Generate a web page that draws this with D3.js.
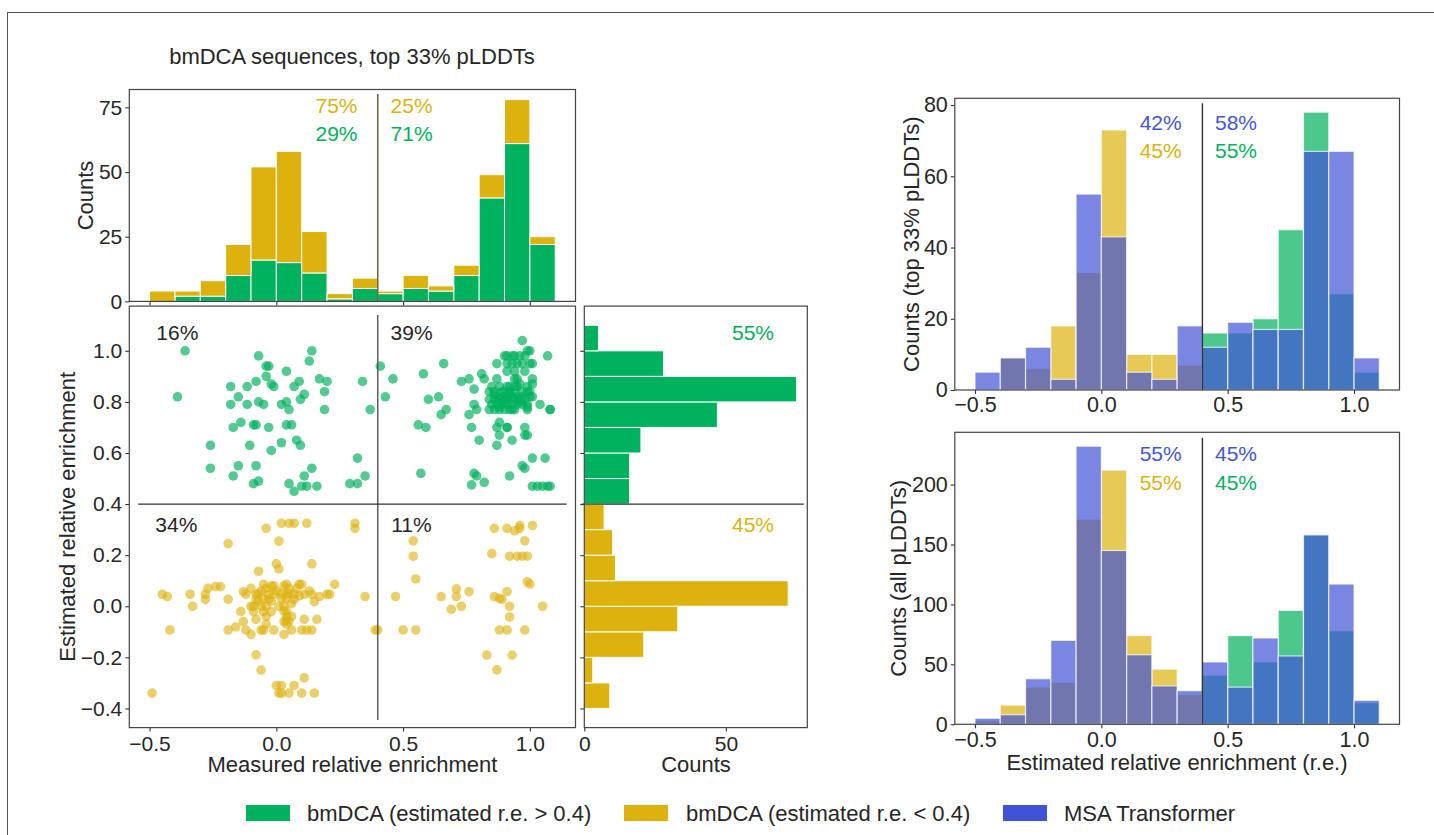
<!DOCTYPE html>
<meta charset="utf-8">
<style>
  body { margin: 0; background: #fff; }
  svg { display: block; font-family: "Liberation Sans", Arial, sans-serif; }
</style>
<body></body>
<script src="https://cdnjs.cloudflare.com/ajax/libs/d3/7.8.5/d3.min.js"></script>
<script>
// ---- data ----
const binEdges = [-0.5, -0.4, -0.3, -0.2, -0.1, 0.0, 0.1, 0.2, 0.3, 0.4, 0.5, 0.6, 0.7, 0.8, 0.9, 1.0, 1.1];

// top-left stacked histogram (measured r.e. of bmDCA top 33%)
const topGreen  = [0, 2, 2, 10, 16, 15, 11, 1, 5, 3, 5, 4, 10, 40, 61, 22];
const topYellow = [4, 2, 6, 12, 36, 43, 16, 2, 4, 1, 5, 2, 4, 9, 17, 3];

// right marginal histogram (estimated r.e.)
const margYellowEdges = [-0.4, -0.3, -0.2, -0.1, 0.0, 0.1, 0.2, 0.3, 0.4];
const margYellow = [9, 3, 21, 33, 72, 11, 10, 7];
const margGreenEdges = [0.4, 0.5, 0.6, 0.7, 0.8, 0.9, 1.0, 1.1];
const margGreen = [16, 16, 20, 47, 75, 28, 5];

// right panels
const bmdcaTop = [0, 9, 6, 18, 33, 73, 10, 10, 7, 16, 16, 20, 45, 78, 27, 5];
const msaTop   = [5, 9, 12, 3, 55, 43, 5, 3, 18, 12, 19, 17, 17, 67, 67, 9];
const bmdcaAll = [3, 16, 31, 35, 171, 212, 74, 46, 25, 41, 74, 52, 95, 158, 78, 18];
const msaAll   = [5, 8, 38, 70, 232, 145, 58, 32, 28, 52, 31, 72, 57, 158, 117, 20];

// scatter: [measured, estimated]
const greenPts = [
  [-0.36,1.0],[-0.39,0.82],[-0.26,0.63],[-0.26,0.54],[-0.18,0.86],[-0.18,0.79],[-0.15,0.82],[-0.17,0.70],
  [-0.14,0.72],[-0.15,0.55],[-0.17,0.51],[-0.115,0.86],[-0.115,0.79],[-0.08,0.88],[-0.07,0.98],[-0.04,0.90],
  [-0.04,0.94],[-0.03,0.94],[-0.07,0.80],[-0.05,0.79],[-0.105,0.63],[-0.09,0.71],[-0.08,0.71],[-0.03,0.70],
  [-0.02,0.87],[-0.01,0.86],[-0.08,0.55],[-0.09,0.48],[-0.07,0.49],[-0.02,0.61],[0.02,0.64],[0.02,0.79],
  [0.04,0.80],[0.04,0.92],[0.05,0.77],[0.04,0.71],[0.06,0.71],[0.07,0.86],[0.09,0.88],[0.11,0.83],
  [0.095,0.81],[0.08,0.65],[0.095,0.63],[0.05,0.48],[0.07,0.45],[0.11,0.51],[0.10,0.47],[0.12,0.47],
  [0.14,0.54],[0.16,0.47],[0.13,0.96],[0.14,1.0],[0.17,0.89],[0.20,0.88],[0.19,0.84],[0.19,0.77],
  [0.29,0.48],[0.32,0.48],[0.32,0.58],[0.35,0.51],[0.34,0.88],[0.37,0.77],
  [0.41,0.94],[0.46,0.89],[0.43,0.82],[0.58,0.91],[0.66,0.95],[0.60,0.81],[0.64,0.82],[0.67,0.77],
  [0.65,0.75],[0.56,0.71],[0.59,0.70],[0.57,0.52],[0.73,0.88],[0.76,0.89],[0.78,0.85],[0.81,0.91],
  [0.82,0.89],[0.78,0.79],[0.79,0.77],[0.76,0.75],[0.77,0.70],[0.80,0.65],[0.78,0.52],[0.79,0.51],
  [0.77,0.475],[0.82,0.485],[0.92,0.51],[0.97,1.04],[1.07,0.98],[0.87,0.95],[0.90,0.98],[0.91,0.98],
  [0.93,0.98],[0.94,0.98],[0.96,0.98],[0.98,0.98],[0.99,1.0],[1.0,1.0],[0.91,0.95],[0.93,0.95],
  [0.95,0.95],[0.97,0.95],[1.0,0.95],[1.01,0.95],[0.91,0.92],[0.94,0.92],[0.98,0.92],[1.04,0.79],
  [1.08,0.77],[1.08,0.77],
  [0.87,0.89],[0.94,0.89],[0.95,0.89],[1.01,0.89],[0.96,0.87],[1.01,0.87],
  [0.85,0.86],[0.88,0.86],[0.91,0.86],[0.92,0.86],[0.95,0.86],[0.99,0.86],
  [0.84,0.84],[0.86,0.84],[0.89,0.84],[0.92,0.84],[0.94,0.84],[0.97,0.84],[0.99,0.84],[1.0,0.84],
  [0.87,0.82],[0.89,0.82],[0.91,0.82],[0.93,0.82],[0.95,0.82],[0.97,0.82],[1.0,0.82],[1.01,0.82],
  [0.84,0.81],[0.86,0.81],[0.90,0.81],[0.92,0.81],[0.94,0.81],[0.96,0.81],[0.98,0.81],
  [0.85,0.79],[0.87,0.79],[0.89,0.79],[0.91,0.79],[0.93,0.79],[0.95,0.79],[0.97,0.79],[0.99,0.79],
  [0.84,0.77],[0.86,0.77],[0.88,0.77],[0.90,0.77],[0.92,0.77],[0.93,0.77],[0.94,0.77],[0.99,0.77],
  [0.88,0.81],[0.90,0.80],[0.92,0.83],[0.88,0.78],[0.96,0.80],[0.90,0.84],[0.94,0.86],[0.86,0.83],
  [0.99,0.78],[0.88,0.72],[0.87,0.70],[0.91,0.70],[0.91,0.70],[0.88,0.67],[0.87,0.63],[0.93,0.65],
  [0.98,0.70],[0.98,0.67],[0.99,0.67],[1.01,0.58],[1.06,0.58],[0.97,0.55],[0.98,0.54],
  [1.01,0.47],[1.03,0.47],[1.05,0.47],[1.07,0.47],[1.08,0.47]
];

const yellowPts = [
  [0.02,0.325],[0.05,0.325],[0.07,0.325],[0.12,0.325],[-0.04,0.305],[0.31,0.325],[0.31,0.305],[0.01,0.255],
  [-0.19,0.245],[0.0,0.166],[0.01,0.146],[0.14,0.166],[-0.07,0.137],
  [-0.27,0.07],[-0.24,0.077],[-0.22,0.077],[-0.05,0.086],[-0.02,0.08],[-0.01,0.08],[0.03,0.08],[0.04,0.086],
  [0.09,0.086],[0.10,0.086],[0.23,0.086],
  [-0.13,0.057],[-0.10,0.07],[-0.07,0.05],[-0.04,0.07],[0.02,0.05],[0.05,0.05],[0.08,0.07],[0.13,0.06],
  [0.20,0.047],[0.21,0.047],
  [-0.45,0.047],[-0.43,0.038],[-0.34,0.047],[-0.28,0.047],[-0.12,0.047],[-0.08,0.047],[-0.03,0.047],
  [-0.01,0.047],[0.04,0.047],[0.07,0.047],[0.11,0.047],[0.14,0.047],[0.17,0.038],[0.35,0.038],
  [-0.28,0.027],[-0.19,0.027],[-0.08,0.027],[-0.03,0.027],[0.07,0.027],[0.15,0.018],
  [-0.33,0.0],[-0.09,0.0],[-0.06,0.0],[-0.04,0.0],[0.01,0.0],[0.03,-0.018],
  [-0.14,-0.021],[-0.09,-0.021],[-0.05,-0.021],[-0.02,-0.021],[0.04,-0.021],
  [0.04,-0.04],[0.04,-0.051],[0.06,-0.04],[0.03,-0.06],[-0.08,-0.051],[0.11,-0.051],[0.16,-0.051],[-0.13,-0.06],
  [-0.04,-0.07],[-0.16,-0.081],[-0.12,-0.093],[-0.19,-0.093],[-0.06,-0.093],[-0.05,-0.093],[-0.01,-0.093],
  [0.06,-0.093],[0.10,-0.093],[0.12,-0.093],[0.14,-0.093],[-0.42,-0.093],[0.39,-0.093],
  [-0.10,-0.11],[0.03,-0.11],[-0.08,-0.19],[-0.06,-0.25],
  [0.0,-0.31],[0.02,-0.31],[0.07,-0.31],[0.11,-0.28],
  [0.01,-0.34],[0.02,-0.34],[0.05,-0.34],[0.10,-0.34],[0.15,-0.34],[-0.49,-0.34],
  [-0.06,0.06],[-0.05,0.03],[-0.02,0.02],[0.0,0.06],[0.02,0.03],[0.03,0.0],[0.04,0.03],[0.05,0.07],
  [-0.07,0.02],[-0.04,-0.04],[0.05,-0.06],[0.04,-0.07],[0.06,0.01],[-0.10,0.0],[0.09,0.04],
  [0.40,-0.093],[0.54,0.256],[0.54,0.196],[0.55,0.107],[0.47,0.038],[0.50,-0.093],[0.55,-0.093],[0.65,0.038],
  [0.71,0.068],[0.71,0.038],[0.76,0.057],[0.69,-0.012],[0.73,0.0],
  [0.86,0.305],[0.91,0.305],[0.96,0.316],[1.01,0.316],[0.94,0.295],[0.96,0.305],
  [0.98,0.256],[0.85,0.206],[0.92,0.196],[0.95,0.196],[0.97,0.196],[0.99,0.196],
  [0.99,0.096],[1.0,0.087],[0.86,0.038],[0.88,0.031],[0.89,0.027],[0.91,0.057],[0.92,0.0],[1.05,0.0],
  [0.92,-0.042],[0.88,-0.093],[0.91,-0.093],[0.98,-0.093],[0.83,-0.191],[0.93,-0.191],[0.87,-0.249]
];

const xTicks = [-0.5, 0.0, 0.5, 1.0];
const yScatterTicks = [-0.4, -0.2, 0.0, 0.2, 0.4, 0.6, 0.8, 1.0];
const topHistTicks = [0, 25, 50, 75];
const margTicks = [0, 50];
const rTopTicks = [0, 20, 40, 60, 80];
const rAllTicks = [0, 50, 100, 150, 200];

const green = "#00b15d", yellow = "#ddb20e", blue = "#4052d6";
const blueText = "#4356d9";
const ink = "#262626";

// ---- layout ----
const svg = d3.select("body").append("svg")
    .attr("width", 1434)
    .attr("height", 835);

svg.append("rect")
    .attr("x", 7.5).attr("y", 12.5)
    .attr("width", 1440).attr("height", 840)
    .attr("fill", "none").attr("stroke", "#555").attr("stroke-width", 1);

const x   = d3.scaleLinear([-0.58, 1.18], [129.3, 575.5]);
const yTop = d3.scaleLinear([0, 81.9], [301.4, 89.5]);
const yS  = d3.scaleLinear([-0.475, 1.175], [727.6, 306.1]);
const xM  = d3.scaleLinear([0, 78.75], [584.3, 807.3]);
const xR  = d3.scaleLinear([-0.58, 1.18], [954.8, 1399.5]);
const yR1 = d3.scaleLinear([0, 81.9], [390, 98.3]);
const yR2 = d3.scaleLinear([0, 243.6], [724.3, 432.3]);

function styleAxis(g, fs) {
  g.select(".domain").remove();
  g.selectAll(".tick line").attr("stroke", "#333").attr("stroke-width", 1.1);
  g.selectAll(".tick text").attr("font-size", fs).attr("fill", ink);
}

function frame(xs, ys) {
  svg.append("rect")
      .attr("x", xs.range()[0]).attr("y", ys.range()[1])
      .attr("width", xs.range()[1] - xs.range()[0])
      .attr("height", ys.range()[0] - ys.range()[1])
      .attr("fill", "none").attr("stroke", "#444").attr("stroke-width", 1.2);
}

function label(txt, px, py, opts = {}) {
  const t = svg.append("text")
      .attr("font-size", opts.size || 21)
      .attr("fill", opts.color || ink)
      .attr("text-anchor", opts.anchor || "start")
      .text(txt);
  if (opts.rotate) {
    t.attr("transform", `translate(${px},${py}) rotate(-90)`).attr("dy", "0.35em");
  } else {
    t.attr("x", px).attr("y", py);
  }
  return t;
}

const fmt1 = d3.format(".1f");

// ---- top-left stacked histogram ----
const bins = d3.range(topGreen.length).map(i => ({
  x0: binEdges[i], x1: binEdges[i + 1], g: topGreen[i], y: topYellow[i]
}));

svg.append("g").selectAll("rect")
  .data(bins)
  .join("rect")
    .attr("x", d => x(d.x0)).attr("width", d => x(d.x1) - x(d.x0))
    .attr("y", d => yTop(d.g)).attr("height", d => yTop(0) - yTop(d.g))
    .attr("fill", green).attr("stroke", "#fff").attr("stroke-width", 1);

svg.append("g").selectAll("rect")
  .data(bins.filter(d => d.y > 0))
  .join("rect")
    .attr("x", d => x(d.x0)).attr("width", d => x(d.x1) - x(d.x0))
    .attr("y", d => yTop(d.g + d.y)).attr("height", d => yTop(d.g) - yTop(d.g + d.y))
    .attr("fill", yellow).attr("stroke", "#fff").attr("stroke-width", 1);

svg.append("line")
    .attr("x1", x(0.4)).attr("x2", x(0.4))
    .attr("y1", yTop(0)).attr("y2", yTop(80.2))
    .attr("stroke", "#6e6040").attr("stroke-width", 1.5);

svg.append("g").attr("transform", `translate(0,${yTop(0)})`)
    .call(d3.axisBottom(x).tickValues(xTicks).tickSize(4).tickFormat(""))
    .call(g => styleAxis(g, 21));
svg.append("g").attr("transform", `translate(${x.range()[0]},0)`)
    .call(d3.axisLeft(yTop).tickValues(topHistTicks).tickSize(4).tickPadding(3))
    .call(g => styleAxis(g, 21));
frame(x, yTop);

label("75%", 357.5, 112.5, {anchor: "end", color: yellow});
label("29%", 357.5, 141, {anchor: "end", color: green});
label("25%", 390.6, 112.5, {color: yellow});
label("71%", 390.6, 141, {color: green});
label("Counts", 85.4, 195.5, {rotate: true, anchor: "middle", size: 22});
label("bmDCA sequences, top 33% pLDDTs", 352, 64, {anchor: "middle", size: 22});

// ---- scatter ----
svg.append("g").selectAll("circle")
  .data(greenPts)
  .join("circle")
    .attr("cx", d => x(d[0])).attr("cy", d => yS(d[1])).attr("r", 4.8)
    .attr("fill", green).attr("fill-opacity", 0.68);

svg.append("g").selectAll("circle")
  .data(yellowPts)
  .join("circle")
    .attr("cx", d => x(d[0])).attr("cy", d => yS(d[1])).attr("r", 4.8)
    .attr("fill", yellow).attr("fill-opacity", 0.62);

svg.append("line")
    .attr("x1", x(0.4)).attr("x2", x(0.4))
    .attr("y1", yS(-0.445)).attr("y2", yS(1.14))
    .attr("stroke", "#555").attr("stroke-width", 1.4);
svg.append("line")
    .attr("x1", x(-0.545)).attr("x2", x(1.145))
    .attr("y1", yS(0.4)).attr("y2", yS(0.4))
    .attr("stroke", "#333").attr("stroke-width", 1.4);

svg.append("g").attr("transform", `translate(0,${yS.range()[0]})`)
    .call(d3.axisBottom(x).tickValues(xTicks).tickSize(4).tickPadding(4).tickFormat(fmt1))
    .call(g => styleAxis(g, 21));
svg.append("g").attr("transform", `translate(${x.range()[0]},0)`)
    .call(d3.axisLeft(yS).tickValues(yScatterTicks).tickSize(4).tickPadding(3).tickFormat(fmt1))
    .call(g => styleAxis(g, 21));
frame(x, yS);

label("16%", 156.3, 340);
label("39%", 390.6, 340);
label("34%", 155.3, 531.6);
label("11%", 391.2, 531.6);
label("Estimated relative enrichment", 67.6, 516.8, {rotate: true, anchor: "middle", size: 22});
label("Measured relative enrichment", 352.4, 772, {anchor: "middle", size: 22});

// ---- right marginal histogram ----
const margBins = margYellow.map((c, i) => ({y0: margYellowEdges[i], y1: margYellowEdges[i + 1], c, col: yellow}))
  .concat(margGreen.map((c, i) => ({y0: margGreenEdges[i], y1: margGreenEdges[i + 1], c, col: green})));

svg.append("g").selectAll("rect")
  .data(margBins)
  .join("rect")
    .attr("x", xM(0)).attr("width", d => xM(d.c) - xM(0))
    .attr("y", d => yS(d.y1)).attr("height", d => yS(d.y0) - yS(d.y1))
    .attr("fill", d => d.col).attr("stroke", "#fff").attr("stroke-width", 1);

svg.append("line")
    .attr("x1", 581.7).attr("x2", xM(77.5))
    .attr("y1", yS(0.4)).attr("y2", yS(0.4))
    .attr("stroke", "#333").attr("stroke-width", 1.4);

svg.append("g").attr("transform", `translate(0,${yS.range()[0]})`)
    .call(d3.axisBottom(xM).tickValues(margTicks).tickSize(4).tickPadding(4))
    .call(g => styleAxis(g, 21));
svg.append("g").attr("transform", `translate(${xM.range()[0]},0)`)
    .call(d3.axisLeft(yS).tickValues(yScatterTicks).tickSize(4).tickFormat(""))
    .call(g => styleAxis(g, 21));
frame(xM, yS);

label("55%", 732, 339.5, {color: green});
label("45%", 732, 531.7, {color: yellow});
label("Counts", 696, 772, {anchor: "middle", size: 22});

// ---- right panels ----
function overlapPanel(ys, bm, msa, ticks, vTop, texts) {
  const data = d3.range(bm.length).map(i => ({x0: binEdges[i], x1: binEdges[i + 1], bm: bm[i], msa: msa[i]}));

  svg.append("g").selectAll("rect")
    .data(data.filter(d => d.bm > 0))
    .join("rect")
      .attr("x", d => xR(d.x0)).attr("width", d => xR(d.x1) - xR(d.x0))
      .attr("y", d => ys(d.bm)).attr("height", d => ys(0) - ys(d.bm))
      .attr("fill", d => d.x0 >= 0.4 - 1e-9 ? green : yellow).attr("fill-opacity", 0.7)
      .attr("stroke", "#fff").attr("stroke-opacity", 0.7).attr("stroke-width", 1.2);

  svg.append("g").selectAll("rect")
    .data(data.filter(d => d.msa > 0))
    .join("rect")
      .attr("x", d => xR(d.x0)).attr("width", d => xR(d.x1) - xR(d.x0))
      .attr("y", d => ys(d.msa)).attr("height", d => ys(0) - ys(d.msa))
      .attr("fill", blue).attr("fill-opacity", 0.7)
      .attr("stroke", "#fff").attr("stroke-opacity", 0.7).attr("stroke-width", 1.2);

  svg.append("line")
      .attr("x1", xR(0.4)).attr("x2", xR(0.4))
      .attr("y1", ys(0)).attr("y2", ys(vTop))
      .attr("stroke", "#333").attr("stroke-width", 1.4);

  svg.append("g").attr("transform", `translate(0,${ys.range()[0]})`)
      .call(d3.axisBottom(xR).tickValues(xTicks).tickSize(4).tickPadding(3).tickFormat(fmt1))
      .call(g => styleAxis(g, 21.5));
  svg.append("g").attr("transform", `translate(${xR.range()[0]},0)`)
      .call(d3.axisLeft(ys).tickValues(ticks).tickSize(4).tickPadding(3))
      .call(g => styleAxis(g, 21.5));
  frame(xR, ys);

  texts.forEach(t => label(t.s, t.x, t.y, {anchor: t.a, color: t.c}));
}

overlapPanel(yR1, bmdcaTop, msaTop, rTopTicks, 80.5, [
  {s: "42%", x: 1181.7, y: 130, a: "end", c: blueText},
  {s: "45%", x: 1181.7, y: 158, a: "end", c: yellow},
  {s: "58%", x: 1215, y: 130, a: "start", c: blueText},
  {s: "55%", x: 1215, y: 158, a: "start", c: green}
]);
overlapPanel(yR2, bmdcaAll, msaAll, rAllTicks, 239, [
  {s: "55%", x: 1181.7, y: 461, a: "end", c: blueText},
  {s: "55%", x: 1181.7, y: 490, a: "end", c: yellow},
  {s: "45%", x: 1215, y: 461, a: "start", c: blueText},
  {s: "45%", x: 1215, y: 490, a: "start", c: green}
]);

label("Counts (top 33% pLDDTs)", 911.7, 244.2, {rotate: true, anchor: "middle", size: 22});
label("Counts (all pLDDTs)", 898, 578.3, {rotate: true, anchor: "middle", size: 22});
label("Estimated relative enrichment (r.e.)", 1177, 770, {anchor: "middle", size: 22});

// ---- legend ----
const legendItems = [
  {name: "bmDCA (estimated r.e. > 0.4)", color: green, px: 246, tx: 307},
  {name: "bmDCA (estimated r.e. < 0.4)", color: yellow, px: 624, tx: 686},
  {name: "MSA Transformer", color: blue, px: 1003, tx: 1064}
];
const lg = svg.append("g").selectAll("g").data(legendItems).join("g");
lg.append("rect")
    .attr("x", d => d.px).attr("y", 805).attr("width", 44).attr("height", 16)
    .attr("fill", d => d.color);
lg.append("text")
    .attr("x", d => d.tx).attr("y", 820.5)
    .attr("font-size", 22).attr("fill", ink)
    .text(d => d.name);
</script>
